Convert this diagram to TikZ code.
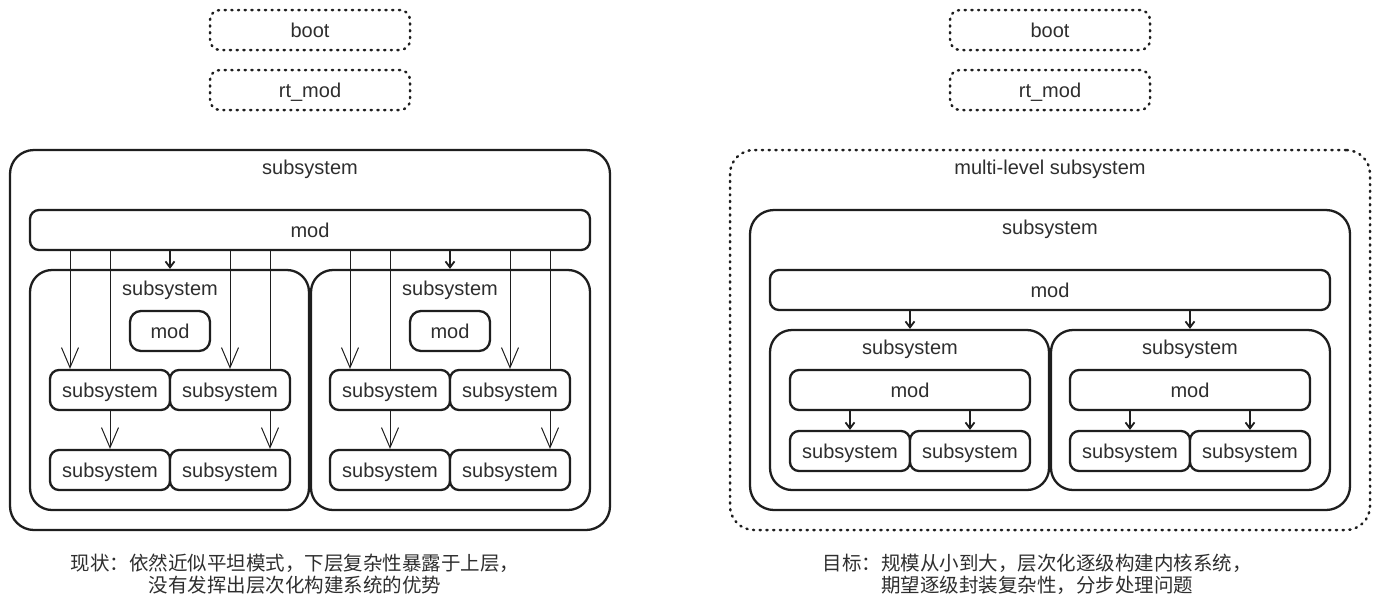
\documentclass[tikz,border=0pt]{standalone}
\usepackage{fontspec}
\setmainfont{Liberation Sans}
\newfontfamily\cjk{Noto Sans CJK SC}
\usetikzlibrary{arrows.meta,backgrounds}
\definecolor{ink}{HTML}{1E1E1E}
\definecolor{txt}{HTML}{2E2E2E}
\begin{document}
\begin{tikzpicture}[x=1pt,y=-1pt,
  sz/.style 2 args={minimum width=#1,minimum height=#2},
  box/.style={draw=ink,line width=2.3pt,rounded corners=#1,fill=white,inner sep=0pt,text=txt,text height=17pt,text depth=3pt,font=\fontsize{20}{24}\selectfont},
  box/.default=9pt,
  frame/.style={draw=ink,line width=2.3pt,rounded corners=#1,inner sep=0pt},
  frame/.default=22pt,
  dotbox/.style={draw=ink,line width=2.5pt,dash pattern=on 1.2pt off 5.5pt,line cap=round,rounded corners=10pt,inner sep=0pt,text=txt,text height=17pt,text depth=3pt,font=\fontsize{20}{24}\selectfont},
  lbl/.style={inner sep=0pt,text=txt,text height=17pt,text depth=3pt,font=\fontsize{20}{24}\selectfont},
  note/.style={inner sep=0pt,align=center,text=txt,font=\cjk\fontsize{19.5}{22}\selectfont},
  open/.style={draw=ink,line width=1pt,-{Straight Barb[length=20pt,width=17pt,line width=1pt]}},
  firm/.style={draw=ink,line width=1.8pt,-{Straight Barb[length=6pt,width=9pt]}}]
\useasboundingbox (0,0) rectangle (1380,606);

% now: flat layout
\node[dotbox,sz={200pt}{40pt}] (bootA) at (310,30) {boot};
\node[dotbox,sz={200pt}{40pt}] (rtA) at (310,90) {rt\_mod};

\node[frame=24pt,sz={600pt}{380pt}] (sysA) at (310,340) {};
\node[lbl] (sysAt) at (310,167) {subsystem};
\node[box,sz={560pt}{40pt}] (modA) at (310,230) {mod};

\node[frame,sz={279pt}{240pt}] (sysA1) at (169.5,390) {};
\node[frame,sz={279pt}{240pt}] (sysA2) at (450.5,390) {};
\node[lbl] (sysA1t) at (170,288) {subsystem};
\node[lbl] (sysA2t) at (450,288) {subsystem};
\node[box=11pt,sz={80pt}{40pt}] (modA1) at (170,331) {mod};
\node[box=11pt,sz={80pt}{40pt}] (modA2) at (450,331) {mod};

\node[box,sz={120pt}{40pt}] (sA11) at (110,390) {subsystem};
\node[box,sz={120pt}{40pt}] (sA12) at (230,390) {subsystem};
\node[box,sz={120pt}{40pt}] (sA13) at (390,390) {subsystem};
\node[box,sz={120pt}{40pt}] (sA14) at (510,390) {subsystem};
\node[box,sz={120pt}{40pt}] (sA21) at (110,470) {subsystem};
\node[box,sz={120pt}{40pt}] (sA22) at (230,470) {subsystem};
\node[box,sz={120pt}{40pt}] (sA23) at (390,470) {subsystem};
\node[box,sz={120pt}{40pt}] (sA24) at (510,470) {subsystem};

\draw[firm] (modA.south -| sysA1t) -- (sysA1.north -| sysA1t);
\draw[firm] (modA.south -| sysA2t) -- (sysA2.north -| sysA2t);
% every mod arrow skips a level
\begin{pgfonlayer}{background}
\foreach \x/\t in {70/sA11,110/sA21,230/sA12,270/sA22,350/sA13,390/sA23,510/sA14,550/sA24}{
  \coordinate (\t x) at (\x,0);
  \draw[open] (modA.south -| \t x) -- (\t.north -| \t x);
}
\end{pgfonlayer}

\node[note] (capA) at (295,574) {现状：依然近似平坦模式，下层复杂性暴露于上层，\\没有发挥出层次化构建系统的优势};

% goal: layered layout
\node[dotbox,sz={200pt}{40pt}] (bootB) at (1050,30) {boot};
\node[dotbox,sz={200pt}{40pt}] (rtB) at (1050,90) {rt\_mod};

\node[dotbox,rounded corners=24pt,sz={640pt}{380pt}] (mlB) at (1050,340) {};
\node[lbl] (mlBt) at (1050,167) {multi-level subsystem};
\node[frame=24pt,sz={600pt}{300pt}] (sysB) at (1050,360) {};
\node[lbl] (sysBt) at (1050,227) {subsystem};
\node[box,sz={560pt}{40pt}] (modB) at (1050,290) {mod};

\node[frame,sz={279pt}{160pt}] (sysB1) at (909.5,410) {};
\node[frame,sz={279pt}{160pt}] (sysB2) at (1190.5,410) {};
\node[lbl] (sysB1t) at (910,347) {subsystem};
\node[lbl] (sysB2t) at (1190,347) {subsystem};
\node[box,sz={240pt}{40pt}] (modB1) at (910,390) {mod};
\node[box,sz={240pt}{40pt}] (modB2) at (1190,390) {mod};

\node[box,sz={120pt}{40pt}] (sB11) at (850,451) {subsystem};
\node[box,sz={120pt}{40pt}] (sB12) at (970,451) {subsystem};
\node[box,sz={120pt}{40pt}] (sB13) at (1130,451) {subsystem};
\node[box,sz={120pt}{40pt}] (sB14) at (1250,451) {subsystem};

\draw[firm] (modB.south -| sysB1t) -- (sysB1.north -| sysB1t);
\draw[firm] (modB.south -| sysB2t) -- (sysB2.north -| sysB2t);
\draw[firm] (modB1.south -| sB11) -- (sB11.north);
\draw[firm] (modB1.south -| sB12) -- (sB12.north);
\draw[firm] (modB2.south -| sB13) -- (sB13.north);
\draw[firm] (modB2.south -| sB14) -- (sB14.north);

\node[note] (capB) at (1037,574) {目标：规模从小到大，层次化逐级构建内核系统，\\期望逐级封装复杂性，分步处理问题};

\end{tikzpicture}
\end{document}
